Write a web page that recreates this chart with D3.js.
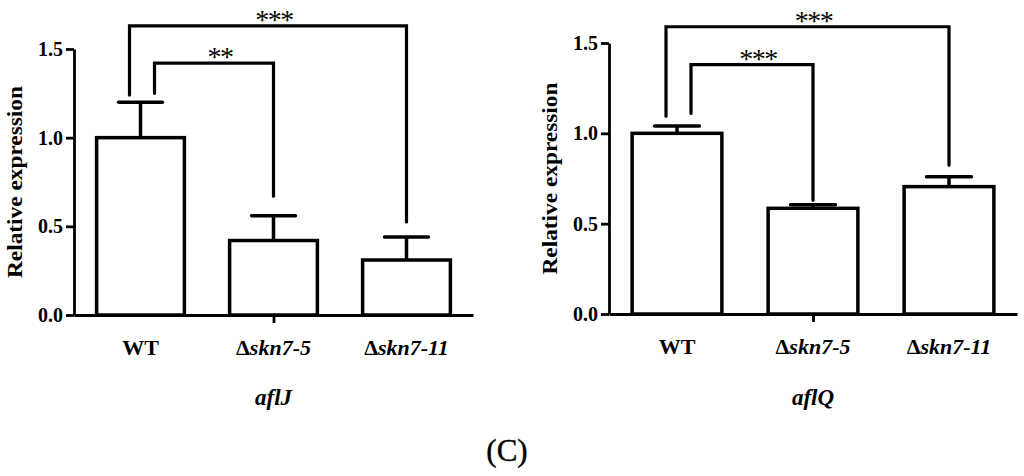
<!DOCTYPE html>
<html>
<head>
<meta charset="utf-8">
<script src="https://cdn.jsdelivr.net/npm/d3@7"></script>
<style>
  html, body { margin: 0; padding: 0; background: #fff; }
</style>
</head>
<body>
<svg id="chart" width="1024" height="476"></svg>
<script>
// strains along the x axis
const categories = ["WT", "Δskn7-5", "Δskn7-11"];

// aflJ relative expression (mean + error bar)
const aflJMean = [1.0, 0.42, 0.31];
const aflJErr = [0.20, 0.14, 0.13];

// aflQ relative expression
const aflQMean = [1.0, 0.585, 0.705];
const aflQErr = [0.04, 0.02, 0.055];

const yTicks = [0, 0.5, 1.0, 1.5];
const genes = ["aflJ", "aflQ"];

// significance brackets: which bars, stars, bracket height and leg ends (in expression units)
const sigPairs = [[0, 1], [0, 2]];
const aflJStars = ["**", "***"];
const aflJTop = [1.42, 1.63];
const aflJLegs = [[1.25, 0.67], [1.24, 0.525]];
const aflQStars = ["***", "***"];
const aflQTop = [1.38, 1.59];
const aflQLegs = [[1.11, 0.63], [1.095, 0.824]];

const serif = '"Liberation Serif", "Times New Roman", serif';

const svg = d3.select('#chart');
svg.append('rect').attr('width', 1024).attr('height', 476).attr('fill', '#fff');

function drawPanel(p) {
    const g = svg.append('g').attr('font-family', serif).attr('fill', '#000');

    //one slot per strain, bars centred in the slot
    const x = d3.scalePoint().domain(categories).range([p.left, p.right]).padding(0.5);
    const bw = x.step() * 0.66;
    const y = d3.scaleLinear().domain([0, 1.5]).range([p.bottom, p.top]);

    // bars
    g.selectAll('rect.bar').data(p.mean).enter()
        .append('rect')
            .attr('class', 'bar')
            .attr('x', (d, i) => x(categories[i]) - bw / 2)
            .attr('y', d => y(d))
            .attr('width', bw)
            .attr('height', d => y(0) - y(d))
            .attr('fill', '#fff')
            .attr('stroke', '#000')
            .attr('stroke-width', 3.5);

    // error bars (upper only)
    const eb = g.selectAll('g.err').data(p.mean).enter().append('g').attr('class', 'err');
    eb.append('line')
        .attr('x1', (d, i) => x(categories[i]))
        .attr('x2', (d, i) => x(categories[i]))
        .attr('y1', d => y(d))
        .attr('y2', (d, i) => y(d + p.err[i]))
        .attr('stroke', '#000').attr('stroke-width', 3.5);
    eb.append('line')
        .attr('x1', (d, i) => x(categories[i]) - bw / 4)
        .attr('x2', (d, i) => x(categories[i]) + bw / 4)
        .attr('y1', (d, i) => y(d + p.err[i]))
        .attr('y2', (d, i) => y(d + p.err[i]))
        .attr('stroke', '#000').attr('stroke-width', 3.5)
        .attr('stroke-linecap', 'round');

    // significance brackets
    const legDx = [14, -11];
    sigPairs.forEach((pair, k) => {
        const xl = x(categories[pair[0]]) + legDx[k];
        const xr = x(categories[pair[1]]);
        g.append('path')
            .attr('d', `M${xl},${y(p.legs[k][0])}V${y(p.top2[k])}H${xr}V${y(p.legs[k][1])}`)
            .attr('fill', 'none')
            .attr('stroke', '#000')
            .attr('stroke-width', 3.2)
            .attr('stroke-linecap', 'round');
        g.append('text')
            .attr('x', (xl + xr) / 2 + 6)
            .attr('y', y(p.top2[k]) + 3)
            .attr('text-anchor', 'middle')
            .attr('font-size', 28)
            .attr('letter-spacing', -1.5)
            .text(p.stars[k]);
    });

    // y axis
    const yAxis = g.append('g')
        .attr('transform', `translate(${p.left},0)`)
        .call(d3.axisLeft(y).tickValues(yTicks).tickFormat(d3.format('.1f'))
            .tickSize(8).tickSizeOuter(0).tickPadding(3));
    yAxis.attr('color', '#000').attr('font-family', serif)
        .attr('font-size', 20).attr('font-weight', 'bold');
    yAxis.selectAll('path, line').attr('stroke-width', 2.8);

    // x axis, prism style: single tick under the middle bar
    const xAxis = g.append('g')
        .attr('transform', `translate(0,${y(0)})`)
        .call(d3.axisBottom(x).tickValues([categories[1]]).tickFormat('')
            .tickSize(8).tickSizeOuter(0));
    xAxis.attr('color', '#000');
    xAxis.selectAll('path, line').attr('stroke-width', 2.8);

    // strain labels: delta upright, name italic
    const lab = g.selectAll('text.cat').data(categories).enter()
        .append('text')
            .attr('class', 'cat')
            .attr('x', d => x(d))
            .attr('y', p.bottom + 40)
            .attr('text-anchor', 'middle')
            .attr('font-size', 22)
            .attr('font-weight', 'bold');
    lab.each(function(d) {
        const t = d3.select(this);
        if (d.startsWith('Δ')) {
            t.append('tspan').text('Δ');
            t.append('tspan').attr('font-style', 'italic').text(d.slice(1));
        } else {
            t.text(d);
        }
    });

    // gene name
    g.append('text')
        .attr('x', (p.left + p.right) / 2)
        .attr('y', 405)
        .attr('text-anchor', 'middle')
        .attr('font-size', 23)
        .attr('font-weight', 'bold')
        .attr('font-style', 'italic')
        .text(p.gene);

    // y title
    g.append('text')
        .attr('transform', `translate(${p.left - 52},${(p.top + p.bottom) / 2}) rotate(-90)`)
        .attr('text-anchor', 'middle')
        .attr('font-size', 22)
        .attr('font-weight', 'bold')
        .attr('textLength', 192)
        .attr('lengthAdjust', 'spacingAndGlyphs')
        .text('Relative expression');
}

drawPanel({left: 74, right: 473, top: 49, bottom: 315,
    mean: aflJMean, err: aflJErr, gene: genes[0],
    stars: aflJStars, top2: aflJTop, legs: aflJLegs});
drawPanel({left: 609, right: 1017, top: 43, bottom: 314,
    mean: aflQMean, err: aflQErr, gene: genes[1],
    stars: aflQStars, top2: aflQTop, legs: aflQLegs});

svg.append('text')
    .attr('x', 507)
    .attr('y', 461)
    .attr('text-anchor', 'middle')
    .attr('font-family', serif)
    .attr('font-size', 31)
    .attr('stroke', '#000')
    .attr('stroke-width', 0.4)
    .text('(C)');
</script>
</body>
</html>
